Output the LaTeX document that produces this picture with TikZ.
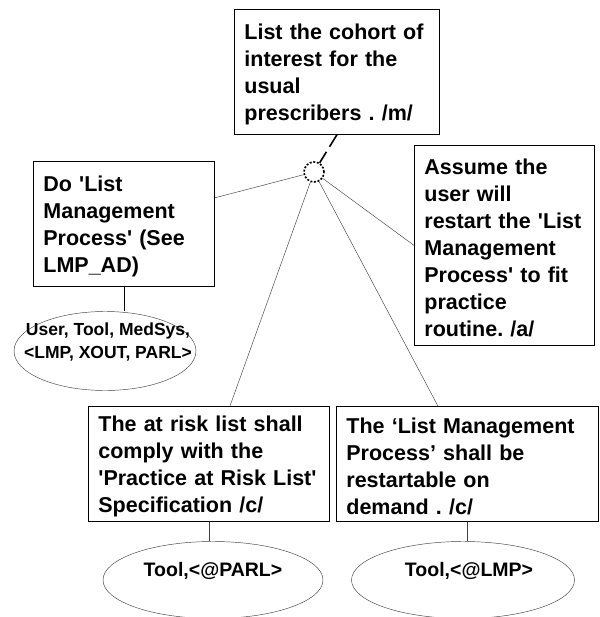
\documentclass[tikz,border=0pt]{standalone}
\usepackage{fontspec}
\setmainfont{Liberation Sans}[Ligatures=TeXOff]
\usetikzlibrary{shapes.geometric}
\frenchspacing
\begin{document}
\begin{tikzpicture}[x=1pt, y=-1pt,
	kuang/.style={draw, line width=0.8pt, align=left, anchor=north west, inner xsep=10pt,
		text height=21pt, font=\bfseries\fontsize{21.5}{27}\selectfont},
	tuoyuan/.style={draw=black!75, ellipse, line width=0.45pt, inner sep=0pt},
	wenzi/.style={align=center, inner sep=0pt, font=\bfseries\fontsize{19.5}{24}\selectfont},
	lian/.style={draw=black!75, line width=0.45pt}]
	\useasboundingbox (0,0) rectangle (599,617);
	
	% 方框
	\node[kuang, text width=185pt, minimum height=125pt] (ding) at (234,9)
		{List the cohort of\\interest  for the\\usual\\prescribers . /m/};
	\node[kuang, text width=161pt, minimum height=125pt] (zuo) at (33,161)
		{Do 'List\\Management\\Process' (See\\LMP\_AD)};
	\node[kuang, text width=160pt, minimum height=200pt] (you) at (414,145)
		{Assume the\\user will\\restart the  'List\\Management\\Process' to fit\\practice\\routine. /a/};
	\node[kuang, text width=221pt, minimum height=115pt] (zxia) at (88,406)
		{The at risk list shall\\comply with the\\'Practice at Risk List'\\Specification  /c/};
	\node[kuang, text width=242pt, minimum height=115pt] (yxia) at (336,406)
		{The ‘List Management\\Process’ shall be\\restartable  on\\demand . /c/};
	
	% 圆点
	\node[circle, draw, line width=1.6pt, dash pattern=on 2pt off 1.6pt, minimum size=20pt, inner sep=0pt] (quan) at (314,172) {};
	
	% 椭圆
	\node[tuoyuan, minimum width=182pt, minimum height=79pt] (shiti) at (105,351) {};
	\node[wenzi, font=\bfseries\fontsize{17.5}{23}\selectfont] (shiti-t) at (108,342) {User, Tool, MedSys,\\<LMP, XOUT, PARL>};
	\node[tuoyuan, minimum width=220pt, minimum height=77pt] (e-parl) at (213,580) {};
	\node[wenzi] (e-parl-t) at (213,571) {Tool,<@PARL>};
	\node[tuoyuan, minimum width=223pt, minimum height=77pt] (e-lmp) at (463,580) {};
	\node[wenzi] (e-lmp-t) at (469,571) {Tool,<@LMP>};
	
	% 连线
	\draw[line width=1.6pt, dash pattern=on 14pt off 6pt] (ding.south) -- (quan);
	\draw[lian] (zuo.16) -- (quan);
	\draw[lian] (quan) -- (you.west);
	\draw[lian] (quan) -- (zxia.70);
	\draw[lian] (quan) -- (yxia.117);
	\draw[line width=0.6pt] (zuo.south) -- (zuo.south |- shiti.north);
	\draw[lian] (zxia.south) -- (zxia.south |- e-parl.north);
	\draw[lian] (yxia.south) -- (yxia.south |- e-lmp.north);
\end{tikzpicture}
\end{document}
